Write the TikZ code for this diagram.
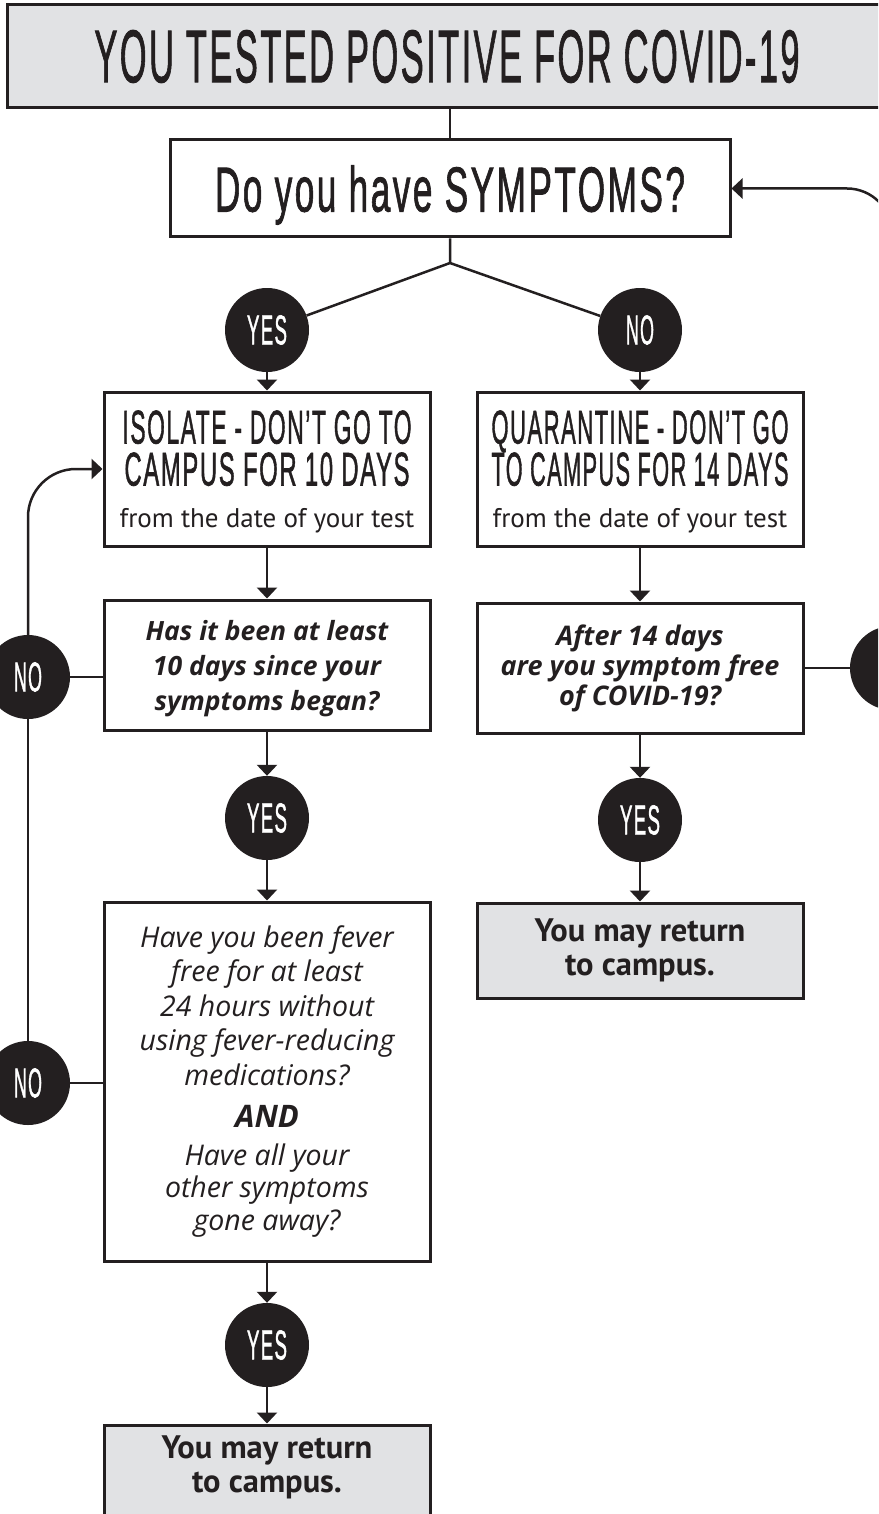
\documentclass[tikz,border=0pt]{standalone}
\usepackage{fontspec}
\usepackage{graphicx}
\setmainfont{PT Sans}
\newfontfamily\condf[LetterSpace=7, FakeBold=1.6]{Liberation Sans}
\newfontfamily\itf{Open Sans}
\usetikzlibrary{arrows.meta}
\definecolor{ink}{RGB}{35,31,32}
\definecolor{panel}{RGB}{225,226,228}
\newcommand\cfit[3]{\resizebox{#1pt}{#2pt}{\condf #3}}
\begin{document}
\begin{tikzpicture}[x=1pt,y=-1pt,
  box/.style={draw=ink, line width=3pt, fill=white, inner sep=0pt, minimum width=326pt, text=ink, align=center},
  grey/.style={box, fill=panel},
  dot/.style={circle, fill=ink, minimum size=84pt, inner sep=0pt, text=white},
  link/.style={draw=ink, line width=2.5pt},
  arr/.style={link, -{Triangle[width=20pt,length=11pt]}},
  q1/.style={font={\itf\fontsize{26.5}{35}\selectfont\bfseries\itshape}},
  q2/.style={font={\itf\fontsize{27}{30}\selectfont\bfseries\itshape}},
  q3/.style={font={\itf\fontsize{28.5}{34.5}\selectfont\itshape}},
  act/.style={font={\fontsize{27}{42}\selectfont}},
  ret/.style={font={\fontsize{32.5}{34}\selectfont\bfseries}}
]
\useasboundingbox (0,0) rectangle (878,1514);
\clip (0,0) rectangle (878,1514);
\fill[white] (0,0) rectangle (878,1514);

% title and first question
\node[grey, minimum width=880pt, minimum height=103pt] (title) at (447,56.5)
  {\cfit{705}{52}{YOU TESTED POSITIVE FOR COVID-19}};
\node[box, minimum width=560pt, minimum height=97pt, text depth=0pt] (symptoms) at (450,188.5)
  {\cfit{470}{46}{Do you have SYMPTOMS?}};

% answer circles
\node[dot] (yes1) at (267,330) {\cfit{40}{29}{YES}};
\node[dot] (no1) at (640,330) {\cfit{28}{29}{NO}};

% action boxes
\node[box, act, minimum height=154pt, text depth=0pt] (iso) at (267,469)
  {\cfit{289}{33}{ISOLATE - DON’T GO TO}\\\cfit{285}{33}{CAMPUS FOR 10 DAYS}\\from the date of your test};
\node[box, act, minimum height=154pt, text depth=0pt] (quar) at (640,469)
  {\cfit{297}{33}{QUARANTINE - DON’T GO}\\\cfit{297}{33}{TO CAMPUS FOR 14 DAYS}\\from the date of your test};

% questions
\node[box, q1, minimum height=130pt, text depth=0pt] (hasit) at (267,665)
  {Has it been at least\\10 days since your\\symptoms began?};
\node[box, q2, minimum height=130pt] (after) at (640,668)
  {After 14 days\\are you symptom free\\of COVID-19?};

\node[dot] (yes2) at (267,818) {\cfit{40}{29}{YES}};
\node[dot] (yes3) at (640,820) {\cfit{40}{29}{YES}};

\node[grey, ret, minimum height=95pt] (ret1) at (640,950.5)
  {You may return\\to campus.};

\node[box, q3, minimum height=359pt] (fever) at (267,1081.5)
  {Have you been fever\\free for at least\\24 hours without\\using fever-reducing\\medications?\\[8pt]
   {\fontsize{31}{34}\selectfont\bfseries AND}\\[3pt]
   Have all your\\[-2pt]other symptoms\\[-2pt]gone away?};

\node[dot] (yes4) at (267,1345) {\cfit{40}{29}{YES}};
\node[grey, ret, minimum height=100pt, text depth=22pt] (ret2) at (267,1475)
  {You may return\\to campus.};

% NO circles on the sides
\node[dot] (noA) at (28,677) {\cfit{28}{29}{NO}};
\node[dot] (noB) at (28,1083) {\cfit{28}{29}{NO}};
\node[dot] (noC) at (892,668) {};

% connectors
\coordinate (fork) at (450,263);
\draw[link] (symptoms.north |- title.south) -- (symptoms.north);
\draw[link] (symptoms.south) -- (fork) -- (yes1);
\draw[link] (fork) -- (no1);
\draw[arr] (yes1) -- (iso);
\draw[arr] (no1) -- (quar);
\draw[arr] (iso) -- (hasit);
\draw[arr] (quar) -- (after);
\draw[arr] (hasit) -- (yes2);
\draw[arr] (yes2) -- (fever);
\draw[arr] (after) -- (yes3);
\draw[arr] (yes3) -- (ret1);
\draw[arr] (fever) -- (yes4);
\draw[arr] (yes4) -- (ret2);

\draw[link] (noA) -- (noA -| hasit.west);
\draw[link] (noB) -- (noB -| fever.west);
\draw[link] (noB) -- (noA);
\draw[arr, rounded corners=48pt] (noA.north) |- (iso.west);

\draw[link] (after) -- (noC);
\draw[arr, rounded corners=45pt] (noC.north) |- (symptoms.east);
\end{tikzpicture}
\end{document}
